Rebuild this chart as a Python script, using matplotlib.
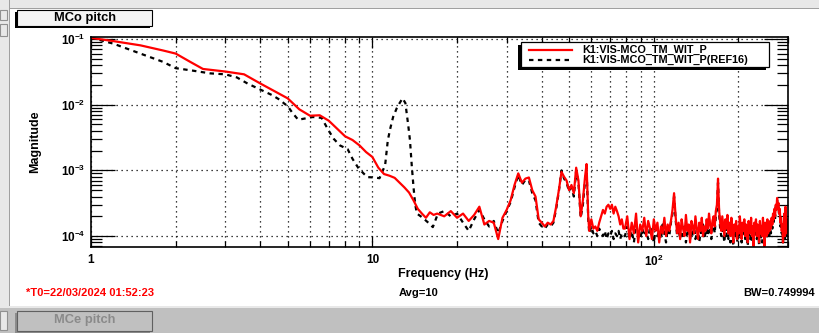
import numpy as np
import matplotlib
matplotlib.use("Agg")
import matplotlib.pyplot as plt
from matplotlib.patches import Rectangle
from matplotlib.lines import Line2D
from matplotlib.ticker import LogLocator, NullFormatter, FixedLocator

plt.rcParams['font.family'] = ['Liberation Sans', 'DejaVu Sans']
plt.rcParams['font.weight'] = 'bold'
plt.rcParams['mathtext.fontset'] = 'custom'
plt.rcParams['mathtext.rm'] = 'Liberation Sans:bold'
plt.rcParams['mathtext.bf'] = 'Liberation Sans:bold'
plt.rcParams['mathtext.it'] = 'Liberation Sans:bold'

# ---- data ----
# red trace, low/mid frequencies
red_f = [1.0, 1.2, 1.5, 1.8, 2.0, 2.25, 2.5, 3.0, 3.5, 4.0, 4.5, 5.0, 5.5, 6.0, 6.5,
         7.0, 7.5, 8.0, 8.5, 9.0, 9.5, 10.0, 10.5, 11.0, 11.5, 12.0, 12.5, 13.0, 13.5,
         14.0, 14.5, 15.0, 15.5, 16.0, 16.5, 17.0, 17.5, 18.0, 19.0, 20.0, 21.0, 22.0,
         23.0, 24.0, 25.0, 26.0, 27.0, 28.0, 29.0, 30.0, 31.0, 32.0, 33.0, 34.0, 35.0,
         36.0, 37.0, 38.0, 39.0, 40.0, 41.0, 42.0, 43.0, 44.0, 45.0, 46.0, 47.0, 48.0,
         49.0, 50.0, 51.0, 52.0, 53.0, 54.0, 55.0, 56.0, 57.0, 57.7, 58.5, 59.0, 60.0,
         61.0, 62.0, 63.0, 64.0, 65.0, 66.0, 67.0, 68.0, 69.0, 70.0, 71.0, 72.0, 73.0,
         74.0, 75.0, 76.0, 77.0, 78.0]
red_m = [0.104, 0.093, 0.080, 0.067, 0.060, 0.045, 0.035, 0.032, 0.029, 0.021, 0.016,
         0.0125, 0.0085, 0.0068, 0.0069, 0.0057, 0.0043, 0.0033, 0.0029, 0.0024, 0.0019,
         0.0016, 0.0011, 0.00088, 0.00083, 0.00077, 0.00065, 0.00055, 0.00046, 0.00035,
         0.00026, 0.00022, 0.00019, 0.00023, 0.00021, 0.00022, 0.00021, 0.00020, 0.00024,
         0.00019, 0.00022, 0.00017, 0.00021, 0.00028, 0.00015, 0.00017, 0.00016, 0.00009,
         0.00019, 0.00025, 0.00035, 0.00060, 0.00090, 0.00065, 0.00075, 0.00078, 0.00050,
         0.00040, 0.00018, 0.00016, 0.00014, 0.00016, 0.00015, 0.00017, 0.00028, 0.00050,
         0.00095, 0.00080, 0.00070, 0.00050, 0.00060, 0.00045, 0.00110, 0.00070, 0.00020,
         0.00035, 0.00080, 0.00125, 0.00020, 0.00012, 0.00018, 0.00013, 0.00014, 0.00012,
         0.00016, 0.00020, 0.00025, 0.00022, 0.00028, 0.00030, 0.00026, 0.00030, 0.00022,
         0.00028, 0.00024, 0.00020, 0.00015, 0.00018, 0.00013]
# red trace, 79-300 Hz (units of 1e-4)
red_noise = [1.3, 2.0, 0.9, 1.6, 1.1, 2.2, 0.8, 1.5, 1.2, 1.9,
             1.0, 1.7, 1.3, 0.9, 1.8, 1.2, 1.6, 0.8, 1.4, 1.1,
             1.9, 1.0, 1.5, 1.2, 1.7, 2.5, 4.5, 2.0, 1.1, 1.6,
             0.9, 1.8, 1.3, 1.0, 2.1, 1.2, 1.5, 0.8, 1.7, 1.4,
             1.1, 2.0, 1.3, 0.9, 1.6, 1.2, 1.9, 1.0, 1.4, 1.2,
             1.8, 1.3, 2.2, 1.5, 1.1, 1.7, 2.0, 1.4, 2.4, 3.0,
             7.5, 2.5, 1.6, 1.2, 2.0, 1.4, 1.0, 1.8, 1.3, 2.1,
             1.1, 1.6, 1.0, 1.9, 1.3, 0.8, 1.5, 1.2, 1.7, 0.9,
             1.4, 1.1, 2.0, 1.3, 0.9, 1.6, 1.2, 1.8, 1.0, 1.5,
             1.2, 0.8, 1.7, 1.3, 1.1, 1.9, 1.0, 1.4, 0.7, 1.6,
             1.2, 1.8, 1.0, 1.5, 1.3, 0.8, 1.7, 1.1, 1.4, 1.0,
             1.9, 1.2, 0.7, 1.6, 1.3, 1.0, 1.8, 1.1, 1.5, 1.2,
             1.7, 1.3, 1.9, 1.5, 2.2, 1.8, 2.6, 2.0, 3.0, 2.5,
             3.8, 2.8, 3.2, 2.2, 2.6, 1.6, 1.9, 1.2, 1.5, 0.8,
             1.3, 2.2, 1.0, 2.8, 1.4, 1.1, 1.8, 1.2]

# black dashed reference trace
ref_f = [1.0, 1.2, 1.5, 1.8, 2.0, 2.3, 2.65, 3.0, 3.3, 3.6, 4.0, 4.4, 4.7, 4.85, 5.0,
         5.2, 5.45, 5.8, 6.15, 6.6, 7.0, 7.3, 7.67, 8.17, 8.5, 8.9, 9.3, 9.6, 10.2,
         10.6, 11.1, 11.35, 11.6, 11.85, 12.2, 12.5, 12.8, 13.1, 13.4, 13.6, 13.8, 14.0,
         14.2, 14.4, 15.1, 15.8, 16.4, 17.1, 18.0, 19.0, 20.0, 21.0, 22.0, 23.0, 24.0,
         25.0, 26.0, 27.0, 28.0, 29.0, 30.0, 31.0, 32.0, 33.0, 34.0, 35.0, 36.0, 37.0,
         38.0, 39.0, 40.0, 41.0, 42.0, 43.0, 44.0, 45.0, 46.0, 47.0, 48.0, 49.0, 50.0,
         51.0, 52.0, 53.0, 54.0, 55.0, 56.0, 57.0, 57.7, 58.5, 59.0, 60.0, 61.0, 62.0,
         63.0, 64.0, 65.0, 66.0, 67.0, 68.0, 69.0, 70.0, 71.0, 72.0, 73.0, 74.0, 75.0,
         76.0, 77.0, 78.0]
ref_m = [0.105, 0.085, 0.060, 0.045, 0.036, 0.033, 0.030, 0.029, 0.026, 0.021, 0.017,
         0.014, 0.0118, 0.0105, 0.0095, 0.0075, 0.0059, 0.0062, 0.0065, 0.0063, 0.0040,
         0.0030, 0.0024, 0.0021, 0.0015, 0.0011, 0.0009, 0.00079, 0.00078, 0.00076,
         0.0012, 0.0029, 0.0045, 0.0065, 0.0088, 0.0106, 0.0125, 0.0106, 0.0050, 0.0029,
         0.0012, 0.00056, 0.00030, 0.00022, 0.00019, 0.00016, 0.000137, 0.00022, 0.00024,
         0.00020, 0.00022, 0.00016, 0.00012, 0.00018, 0.00025, 0.00018, 0.00014, 0.00017,
         0.00011, 0.00017, 0.00024, 0.00033, 0.00055, 0.00085, 0.00060, 0.00072, 0.00070,
         0.00045, 0.00035, 0.00016, 0.00014, 0.00013, 0.00015, 0.00014, 0.00016, 0.00026,
         0.00048, 0.00100, 0.00075, 0.00065, 0.00048, 0.00055, 0.00040, 0.00100, 0.00065,
         0.00019, 0.00030, 0.00070, 0.00110, 0.00018, 0.00011, 0.00014, 0.00011, 0.00012,
         0.00010, 0.00013, 0.00011, 0.00010, 0.00012, 0.00009, 0.00011, 0.00010, 0.00012,
         0.00009, 0.00011, 0.00010, 0.00012, 0.00009, 0.00011, 0.00010]
ref_noise = [1.0, 1.4, 0.9, 1.2, 0.8, 1.5, 1.1, 0.9, 1.3, 1.0,
             1.2, 0.9, 1.4, 1.1, 0.8, 1.3, 1.0, 1.2, 0.9, 1.5,
             1.1, 0.8, 1.3, 1.0, 1.6, 2.2, 4.0, 1.8, 1.0, 1.3,
             0.9, 1.2, 1.0, 1.4, 0.8, 1.1, 1.3, 0.9, 1.2, 1.0,
             1.4, 0.9, 1.1, 1.3, 0.8, 1.2, 1.0, 1.5, 0.9, 1.1,
             1.3, 1.0, 1.6, 1.2, 0.9, 1.4, 1.7, 1.1, 2.0, 2.6,
             6.5, 2.2, 1.3, 1.0, 1.5, 1.1, 0.8, 1.3, 1.0, 1.6,
             0.9, 1.3, 0.8, 1.5, 1.0, 0.7, 1.2, 1.0, 1.4, 0.8,
             1.1, 0.9, 1.5, 1.0, 0.8, 1.3, 1.0, 1.4, 0.9, 1.2,
             1.0, 0.7, 1.3, 1.1, 0.9, 1.5, 0.8, 1.2, 0.7, 1.3,
             1.0, 1.4, 0.9, 1.2, 1.1, 0.7, 1.3, 0.9, 1.2, 0.8,
             1.5, 1.0, 0.7, 1.3, 1.1, 0.9, 1.4, 1.0, 1.2, 1.0,
             1.4, 1.1, 1.6, 1.3, 1.9, 1.6, 2.3, 1.8, 2.8, 2.4,
             3.5, 2.6, 3.0, 2.0, 2.4, 1.4, 1.7, 1.1, 1.3, 0.8,
             1.1, 1.9, 0.9, 2.4, 1.2, 1.0, 1.6, 1.1]

red_label = "K1:VIS-MCO_TM_WIT_P"
ref_label = "K1:VIS-MCO_TM_WIT_P(REF16)"

W, H = 819, 333
fig = plt.figure(figsize=(W / 100, H / 100), dpi=100)
fig.patch.set_facecolor('white')


def frect(x0, y0, x1, y1, **kw):
    # rectangle in figure pixel coords (y from top)
    r = Rectangle((x0 / W, 1 - y1 / H), (x1 - x0) / W, (y1 - y0) / H,
                  transform=fig.transFigure, **kw)
    fig.patches.append(r)
    return r


# window chrome
frect(0, 0, W, 8, facecolor='#e8e8e8', edgecolor='none')
frect(0, 8, W, 9, facecolor='#a0a0a0', edgecolor='none')
frect(0, 0, 9, H, facecolor='#e8e8e8', edgecolor='none')
frect(9, 0, 10, 306, facecolor='#a0a0a0', edgecolor='none')
frect(0, 306, W, H, facecolor='#c0c0c0', edgecolor='none')
frect(0, 306, W, 308, facecolor='#e8e8e8', edgecolor='none')
frect(0, 10, 7, 20, facecolor='#e8e8e8', edgecolor='#909090', lw=0.8)
frect(0, 24, 7, 36, facecolor='#e8e8e8', edgecolor='#909090', lw=0.8)
frect(0, 311, 7, 330, facecolor='#e8e8e8', edgecolor='#909090', lw=0.8)

# title box with shadow
frect(15, 12, 150, 28, facecolor='black', edgecolor='none')
frect(17, 10, 152, 26, facecolor='#f4f4f4', edgecolor='black', lw=0.8)
fig.text(85 / W, 1 - 18 / H, "MCo pitch", ha='center', va='center',
         fontsize=9.3, weight='bold')

# bottom pad title (greyed)
frect(15, 313, 150, 333, facecolor='#8c8c8c', edgecolor='none')
frect(17, 311, 152, 331, facecolor='#c0c0c0', edgecolor='#606060', lw=0.8)
fig.text(85 / W, 1 - 320 / H, "MCe pitch", ha='center', va='center',
         fontsize=9.3, weight='bold', color='#8a8a8a')

# axes
x0, x1, y0, y1 = 91, 788, 37, 247
ax = fig.add_axes([x0 / W, 1 - y1 / H, (x1 - x0) / W, (y1 - y0) / H])
ax.set_xscale('log')
ax.set_yscale('log')
ax.set_xlim(1, 300)
ax.set_ylim(6.82e-5, 0.1073)

nf = np.linspace(79, 300, len(red_noise))
ax.plot(ref_f + list(nf), ref_m + [v * 1e-4 for v in ref_noise],
        color='black', lw=1.6, ls=(0, (2, 2)))
ax.plot(red_f + list(nf), red_m + [v * 1e-4 for v in red_noise],
        color='red', lw=1.6)

# ticks ROOT-like
ax.xaxis.set_major_locator(FixedLocator([1, 10, 100]))
ax.xaxis.set_minor_locator(FixedLocator([2, 3, 4, 5, 6, 7, 8, 9, 20, 30, 40, 50, 60,
                                         70, 80, 90, 200, 300]))
ax.set_xticklabels(['1', '10', r'$10^{2}$'])
ax.xaxis.set_minor_formatter(NullFormatter())
ax.yaxis.set_major_locator(FixedLocator([1e-4, 1e-3, 1e-2, 1e-1]))
ax.yaxis.set_minor_locator(LogLocator(base=10, subs=np.arange(2, 10), numticks=20))
ax.yaxis.set_minor_formatter(NullFormatter())
ax.set_yticklabels([r'$10^{-4}$', r'$10^{-3}$', r'$10^{-2}$', r'$10^{-1}$'])
ax.tick_params(which='both', direction='in', top=True, right=True, width=0.9,
               labelsize=8.5, colors='black')
ax.tick_params(axis='x', which='major', length=8, pad=5)
ax.tick_params(axis='x', which='minor', length=4.5)
ax.tick_params(axis='y', which='major', length=17, pad=4)
ax.tick_params(axis='y', which='minor', length=8)
for s in ax.spines.values():
    s.set_linewidth(1.2)

ax.grid(True, which='major', axis='y', ls=(0, (1, 3)), color='black', lw=0.9)
ax.grid(True, which='both', axis='x', ls=(0, (1, 3)), color='black', lw=0.9)

fig.text(443 / W, 1 - 274 / H, "Frequency (Hz)", ha='center', va='center',
         fontsize=9, weight='bold')
fig.text(35 / W, 1 - 142 / H, "Magnitude", ha='center', va='center',
         fontsize=9, weight='bold', rotation=90)

# legend box with shadow
frect(518, 45, 766, 70, facecolor='black', edgecolor='none', zorder=5)
frect(521, 42, 769, 67, facecolor='white', edgecolor='black', lw=0.9, zorder=6)
fig.lines.append(Line2D([529 / W, 572 / W], [1 - 49.5 / H, 1 - 49.5 / H], color='red',
                        lw=1.6, transform=fig.transFigure, zorder=7))
fig.lines.append(Line2D([529 / W, 572 / W], [1 - 59.5 / H, 1 - 59.5 / H], color='black',
                        lw=1.6, ls=(0, (2, 2)), transform=fig.transFigure, zorder=7))
fig.text(582 / W, 1 - 49.5 / H, red_label, ha='left', va='center', fontsize=7.8,
         weight='bold', zorder=7)
fig.text(582 / W, 1 - 59.5 / H, ref_label, ha='left', va='center', fontsize=7.8,
         weight='bold', zorder=7)

# footer texts
fig.text(26 / W, 1 - 293 / H, "*T0=22/03/2024 01:52:23", color='red', ha='left',
         va='center', fontsize=8, weight='bold')
fig.text(419 / W, 1 - 293 / H, "Avg=10", ha='center', va='center', fontsize=8,
         weight='bold')
fig.text(815 / W, 1 - 293 / H, "BW=0.749994", ha='right', va='center', fontsize=8,
         weight='bold')

fig.savefig('out.png', dpi=100)
